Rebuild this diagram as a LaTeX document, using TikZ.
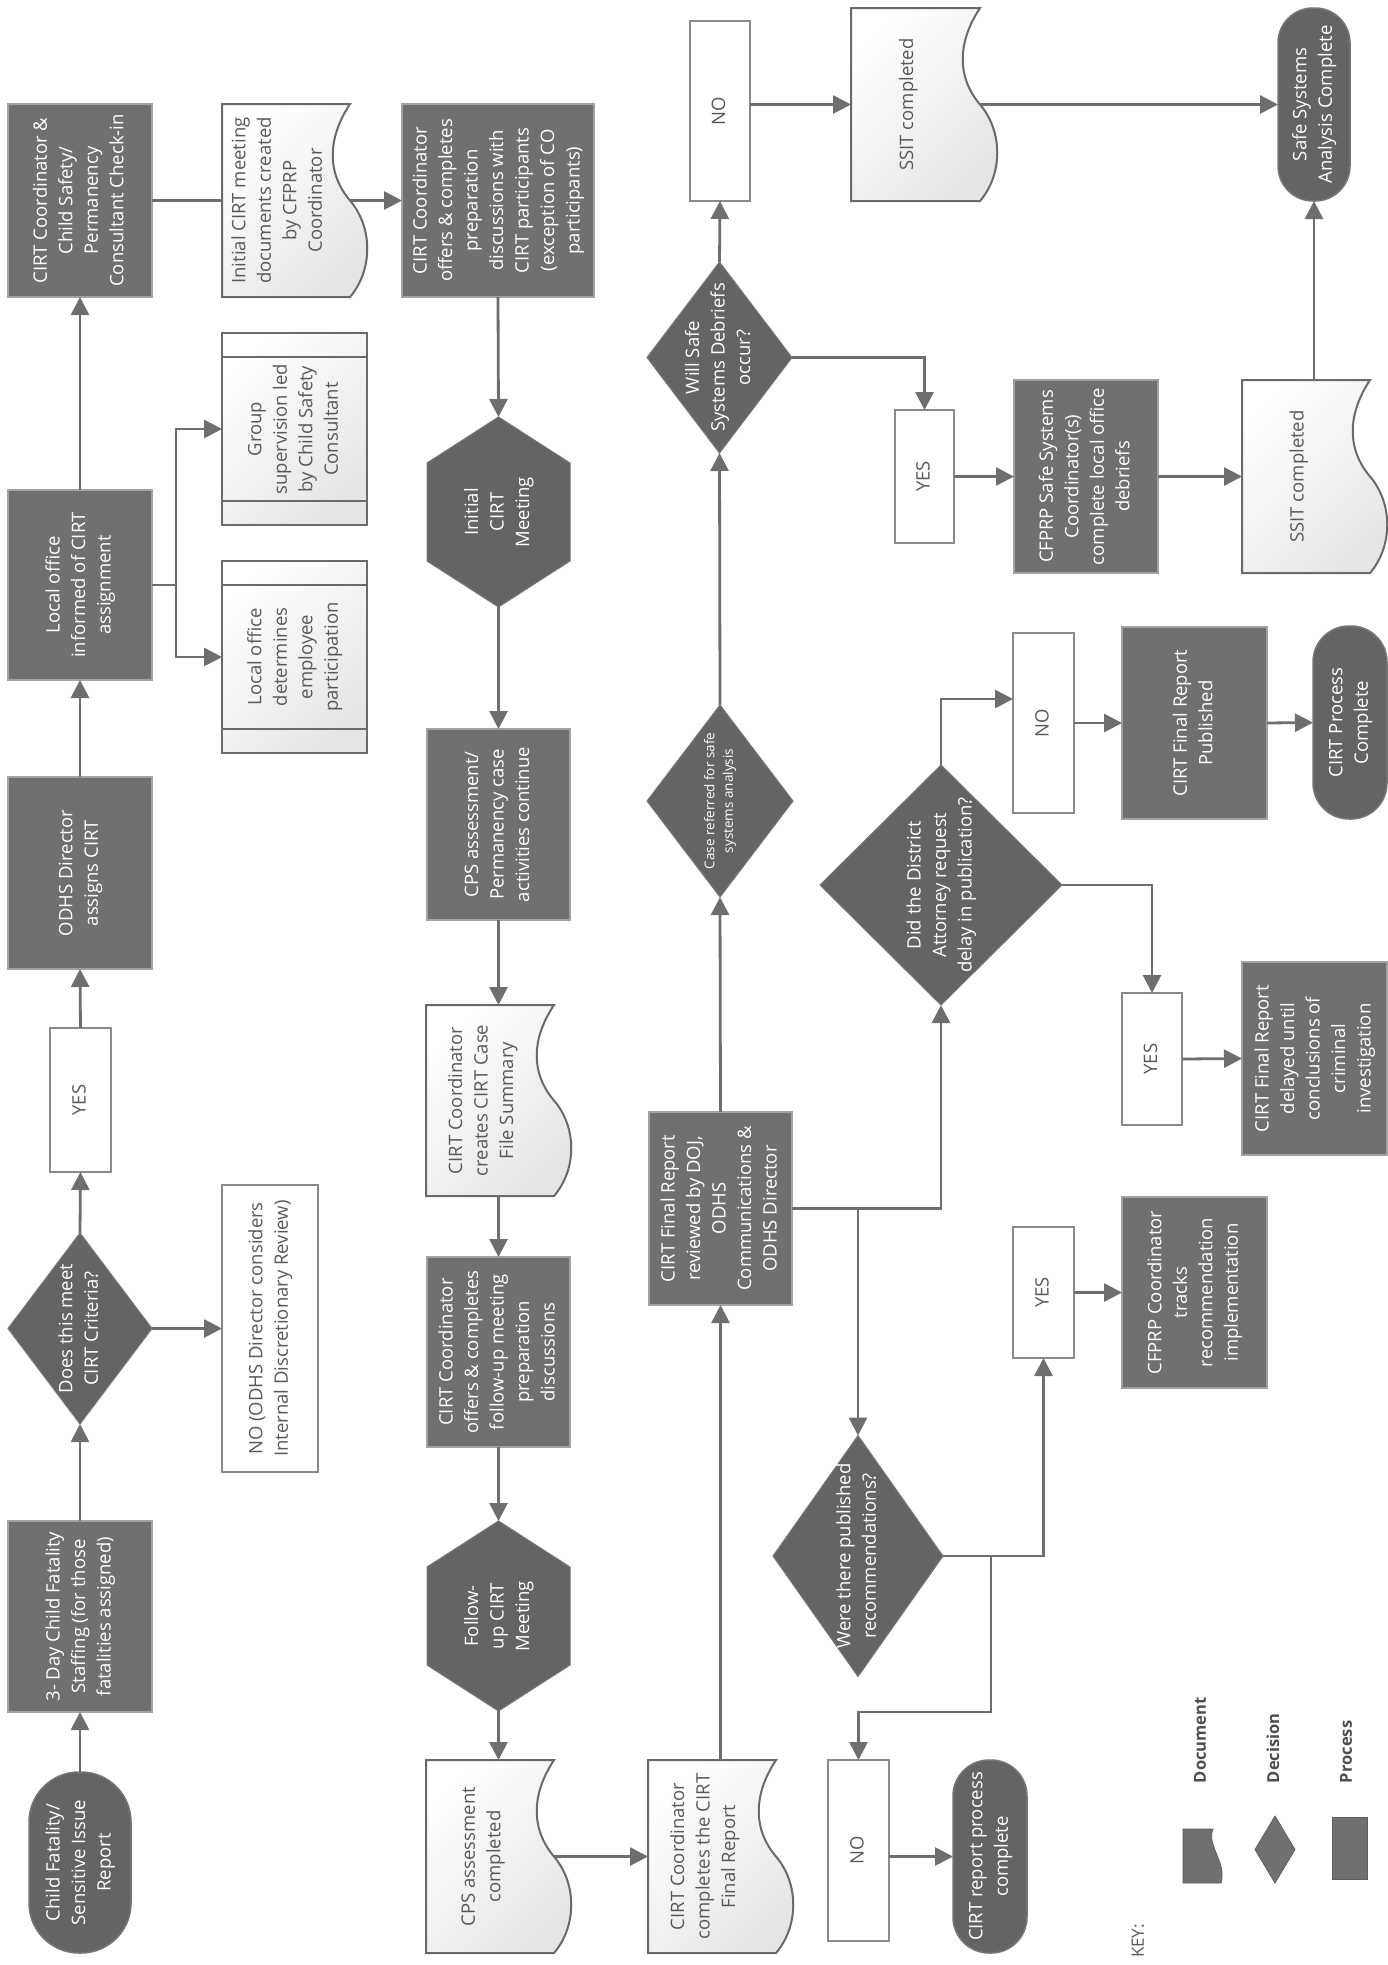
\documentclass[tikz,border=0pt]{standalone}
\usepackage{graphicx}
\usepackage{fontspec}
\setmainfont{Open Sans}
\usetikzlibrary{arrows.meta,shapes.geometric}
\definecolor{procfill}{HTML}{707070}
\definecolor{procborder}{HTML}{A2A2A2}
\definecolor{darkfill}{HTML}{646464}
\definecolor{darkborder}{HTML}{767676}
\definecolor{lineclr}{HTML}{6E6E6E}
\definecolor{boxborder}{HTML}{8A8A8A}
\definecolor{docborder}{HTML}{6A6A6A}
\definecolor{txtgray}{HTML}{595959}
\definecolor{keytxt}{HTML}{4E4E4E}
\definecolor{keyfill}{HTML}{707070}

\newcommand\vt[1]{\rotatebox{90}{\begin{tabular}{@{}c@{}}#1\end{tabular}}}

\tikzset{
  every node/.style={inner sep=0pt, outer sep=0pt},
  mtxt/.style={font=\fontsize{18.5}{25.5}\selectfont},
  procbox/.style={mtxt, rectangle, fill=procfill, draw=procborder, line width=1.5pt, text=white},
  termbox/.style={mtxt, rectangle, fill=darkfill, draw=darkborder, line width=1.5pt, text=white},
  ynbox/.style={mtxt, rectangle, fill=white, draw=boxborder, line width=1.5pt, text=txtgray},
  predef/.style={mtxt, rectangle, draw=docborder, line width=2pt, top color=white, bottom color=black!10, shading angle=45, text=txtgray},
  predefline/.style={draw=docborder, line width=2pt},
  docshape/.style={draw=docborder, line width=2pt, top color=white, bottom color=black!10, shading angle=45},
  doctext/.style={mtxt, rectangle, text=txtgray},
  hexshape/.style={fill=darkfill, draw=darkborder, line width=1pt},
  diabox/.style={diamond, fill=darkfill, draw=darkborder, line width=1pt},
  wtext/.style={mtxt, text=white},
  conn/.style={draw=lineclr, line width=2.8pt, -{Triangle[length=18pt,width=18pt]}},
  plainline/.style={draw=lineclr, line width=2.8pt},
  keytext/.style={font=\fontsize{16.5}{18}\selectfont\bfseries, text=keytxt},
}

% document shape: name, x0, y0, x1, y1, text
\newcommand\docnode[6]{%
  \path[docshape] (#2,#3) -- (#4,#3)
    .. controls ({#4-23},{#3+0.18*(#5-#3)}) and ({#4-23},{#3+0.36*(#5-#3)}) .. (#4,{(#3+#5)/2})
    .. controls ({#4+23},{#3+0.64*(#5-#3)}) and ({#4+23},{#3+0.86*(#5-#3)}) .. (#4,#5)
    -- (#2,#5) -- cycle;
  \node[doctext, minimum width={#4-#2}, minimum height={#5-#3}] (#1) at ({(#2+#4)/2},{(#3+#5)/2}) {\vt{#6}\hspace*{15pt}};
}
% hexagon: name, x0, y0, x1, y1, text
\newcommand\hexnode[6]{%
  \path[hexshape] ({(#2+#4)/2},#3) -- (#4,{#3+46}) -- (#4,{#5-46}) -- ({(#2+#4)/2},#5) -- (#2,{#5-46}) -- (#2,{#3+46}) -- cycle;
  \node[wtext, minimum width={#4-#2}, minimum height={#5-#3}] (#1) at ({(#2+#4)/2},{(#3+#5)/2}) {\vt{#6}};
}
% diamond: name, cx, cy, w, h, text
\newcommand\dianode[6]{%
  \node[diabox, minimum width=#4, minimum height=#5] (#1) at (#2,#3) {};
  \node[wtext] (#1-t) at (#1) {\vt{#6}};
}

\begin{document}
\begin{tikzpicture}[x=1pt,y=-1pt]
\fill[white] (0,0) rectangle (1388,1965);
\useasboundingbox (0,0) rectangle (1388,1965);

% ---------- column 1 ----------
\node[termbox, rounded corners=50pt, minimum width=102, minimum height=181] (t_start) at (80,1862.5) {\vt{Child Fatality/\\Sensitive Issue\\Report}};
\node[procbox, minimum width=144, minimum height=191] (p_3day) at (80,1616.5) {\vt{3- Day Child Fatality\\Staffing (for those\\fatalities assigned)}};
\dianode{d_meet}{80}{1328.5}{144}{191}{Does this meet\\CIRT Criteria?}
\node[ynbox, minimum width=61, minimum height=144] (yes1) at (80.5,1100) {\vt{YES}};
\node[ynbox, minimum width=96, minimum height=287] (no1) at (270,1328.5) {\vt{NO (ODHS Director considers\\Internal Discretionary Review)}};
\node[procbox, minimum width=144, minimum height=192] (p_assign) at (80,873) {\vt{ODHS Director\\assigns CIRT}};
\node[procbox, minimum width=144, minimum height=190] (p_local) at (80,585) {\vt{Local office\\informed of CIRT\\assignment}};
\node[procbox, minimum width=144, minimum height=193] (p_checkin) at (80,200.5) {\vt{CIRT Coordinator \&\\Child Safety/\\Permanency\\Consultant Check-in}};

% ---------- column 2 ----------
\node[predef, minimum width=145, minimum height=192] (pp_group) at (294.5,429) {\vt{Group\\supervision led\\by Child Safety\\Consultant}};
\draw[predefline] ([yshift=-24pt]pp_group.north west) -- ([yshift=-24pt]pp_group.north east);
\draw[predefline] ([yshift=24pt]pp_group.south west) -- ([yshift=24pt]pp_group.south east);
\node[predef, minimum width=145, minimum height=192] (pp_determ) at (294.5,657) {\vt{Local office\\determines\\employee\\participation}};
\draw[predefline] ([yshift=-24pt]pp_determ.north west) -- ([yshift=-24pt]pp_determ.north east);
\draw[predefline] ([yshift=24pt]pp_determ.south west) -- ([yshift=24pt]pp_determ.south east);
\docnode{doc_init}{222}{104}{350}{297}{Initial CIRT meeting\\documents created\\by CFPRP\\Coordinator}

% ---------- column 3 ----------
\node[procbox, minimum width=192, minimum height=193] (p_prep) at (498,200.5) {\vt{CIRT Coordinator\\offers \& completes\\preparation\\discussions with\\CIRT participants\\(exception of CO\\participants)}};
\hexnode{h_init}{427}{417}{570}{607}{Initial\\CIRT\\Meeting}
\node[procbox, minimum width=143, minimum height=191] (p_cps) at (498.5,824.5) {\vt{CPS assessment/\\Permanency case\\activities continue}};
\docnode{doc_summary}{426}{1005}{554}{1196}{CIRT Coordinator\\creates CIRT Case\\File Summary}
\node[procbox, minimum width=143, minimum height=190] (p_followprep) at (498.5,1352) {\vt{CIRT Coordinator\\offers \& completes\\follow-up meeting\\preparation\\discussions}};
\hexnode{h_follow}{427}{1521}{570}{1711}{Follow-\\up CIRT\\Meeting}
\docnode{doc_cps}{426}{1760}{554}{1953}{CPS assessment\\completed}

% ---------- column 4 ----------
\docnode{doc_final}{648}{1760}{776}{1953}{CIRT Coordinator\\completes the CIRT\\Final Report}
\node[procbox, minimum width=143, minimum height=193] (p_review) at (720.5,1208.5) {\vt{CIRT Final Report\\reviewed by DOJ,\\ODHS\\Communications \&\\ODHS Director}};
\node[diabox, minimum width=146, minimum height=192] (d_case) at (720,801) {};
\node[text=white, font=\fontsize{13.5}{18.5}\selectfont] (d_case-t) at (d_case) {\vt{Case referred for safe\\systems analysis}};
\dianode{d_will}{719.5}{357.5}{145}{191}{Will Safe\\Systems Debriefs\\occur?}
\node[ynbox, minimum width=60, minimum height=180] (no_ss) at (720,111) {\vt{NO}};

% ---------- right part ----------
\docnode{doc_ssit1}{851}{8}{980}{201}{SSIT completed}
\node[termbox, rounded corners=35pt, minimum width=72, minimum height=193] (t_ssa) at (1314,104.5) {\vt{Safe Systems\\Analysis Complete}};
\node[ynbox, minimum width=59, minimum height=133] (yes_ss) at (924.5,476.5) {\vt{YES}};
\node[procbox, minimum width=144, minimum height=193] (p_ssdebrief) at (1086,476.5) {\vt{CFPRP Safe Systems\\Coordinator(s)\\complete local office\\debriefs}};
\docnode{doc_ssit2}{1242}{380}{1370}{573}{SSIT completed}

\dianode{d_da}{941}{885}{242}{240}{Did the District\\Attorney request\\delay in publication?}
\node[ynbox, minimum width=61, minimum height=180] (no_da) at (1043.5,723) {\vt{NO}};
\node[procbox, minimum width=145, minimum height=192] (p_published) at (1194.5,723) {\vt{CIRT Final Report\\Published}};
\node[termbox, rounded corners=36pt, minimum width=74, minimum height=193] (t_cirtdone) at (1350,722.5) {\vt{CIRT Process\\Complete}};
\node[ynbox, minimum width=60, minimum height=132] (yes_da) at (1152,1059) {\vt{YES}};
\node[procbox, minimum width=145, minimum height=193] (p_delayed) at (1314.5,1058.5) {\vt{CIRT Final Report\\delayed until\\conclusions of\\criminal\\investigation}};

\node[ynbox, minimum width=61, minimum height=131] (yes_rec) at (1043.5,1292.5) {\vt{YES}};
\node[procbox, minimum width=145, minimum height=191] (p_tracks) at (1194.5,1292.5) {\vt{CFPRP Coordinator\\tracks\\recommendation\\implementation}};
\dianode{d_rec}{858}{1556}{170}{241}{Were there published\\recommendations?}
\node[ynbox, minimum width=61, minimum height=181] (no_rec) at (858.5,1850.5) {\vt{NO}};
\node[termbox, rounded corners=36pt, minimum width=74, minimum height=193] (t_report) at (990,1856.5) {\vt{CIRT report process\\complete}};

% ---------- connectors ----------
\draw[conn] (t_start.north) -- (p_3day.south);
\draw[conn] (p_3day.north) -- (d_meet.south);
\draw[conn] (d_meet.north) -- (yes1.south);
\draw[conn] (yes1.north) -- (p_assign.south);
\draw[conn] (d_meet.east) -- (no1.west);
\draw[conn] (p_assign.north) -- (p_local.south);
\draw[conn] (p_local.north) -- (p_checkin.south);
\draw[conn] (p_local.east) -- ++(24,0) |- (pp_group.west);
\draw[conn] (p_local.east) -- ++(24,0) |- (pp_determ.west);
\draw[plainline] (p_checkin.east) -- (doc_init.west);
\draw[conn] (doc_init.east) -- (p_prep.west);
\draw[conn] (p_prep.south) -- (h_init.north);
\draw[conn] (h_init.south) -- (p_cps.north);
\draw[conn] (p_cps.south) -- (doc_summary.north -| p_cps.south);
\draw[conn] (doc_summary.south -| p_followprep.north) -- (p_followprep.north);
\draw[conn] (p_followprep.south) -- (h_follow.north);
\draw[conn] (h_follow.south) -- (doc_cps.north -| h_follow.south);
\draw[conn] (doc_cps.east) -- (doc_final.west);
\draw[conn] (doc_final.north -| p_review.south) -- (p_review.south);
\draw[conn] (p_review.north) -- (d_case.south);
\draw[conn] (d_case.north) -- (d_will.south);
\draw[conn] (d_will.north) -- (no_ss.south);
\draw[conn] (no_ss.east |- doc_ssit1.west) -- (doc_ssit1.west);
\draw[conn] (doc_ssit1.east) -- (t_ssa.west);
\draw[conn] (d_will.east) -| (yes_ss.north);
\draw[conn] (yes_ss.east) -- (p_ssdebrief.west);
\draw[conn] (p_ssdebrief.east) -- (doc_ssit2.west);
\draw[conn] (doc_ssit2.north -| t_ssa.south) -- (t_ssa.south);
\draw[conn] (p_review.east) -| (d_da.south);
\draw[conn] (p_review.east) -| (d_rec.north);
\draw[conn] (d_da.north) |- ([yshift=24pt]no_da.west);
\draw[conn] (no_da.east) -- (p_published.west);
\draw[conn] (p_published.east) -- (t_cirtdone.west);
\draw[conn] (d_da.east) -| (yes_da.north);
\draw[conn] (yes_da.east) -- (p_delayed.west);
\draw[conn] (d_rec.east) -| (yes_rec.south);
\draw[conn] (yes_rec.east) -- (p_tracks.west);
\draw[conn] (d_rec.east) -- ++(48,0) -- ++(0,156) -| (no_rec.north);
\draw[conn] (no_rec.east |- t_report.west) -- (t_report.west);

% ---------- key ----------
\node[font=\fontsize{17}{19}\selectfont, text=txtgray] (key) at (1138,1941) {\rotatebox{90}{KEY:}};
\path[fill=keyfill, draw=keyfill!85!black, line width=0.8pt] (1183,1829) -- (1213,1829)
  .. controls (1206,1845) and (1227,1862) .. (1221,1883) -- (1183,1883) -- cycle;
\node[keytext, anchor=south] (k_doc) at (1200,1783) {\rotatebox{90}{Document}};
\node[diamond, fill=keyfill, draw=keyfill!85!black, line width=0.8pt, minimum width=40, minimum height=67] (k_dicon) at (1275,1849.5) {};
\node[keytext, anchor=south] (k_dec) at (1273,1783) {\rotatebox{90}{Decision}};
\node[rectangle, fill=keyfill, draw=keyfill!85!black, line width=0.8pt, minimum width=35, minimum height=62] (k_picon) at (1349.5,1848) {};
\node[keytext, anchor=south] (k_proc) at (1346,1783) {\rotatebox{90}{Process}};
\end{tikzpicture}
\end{document}
